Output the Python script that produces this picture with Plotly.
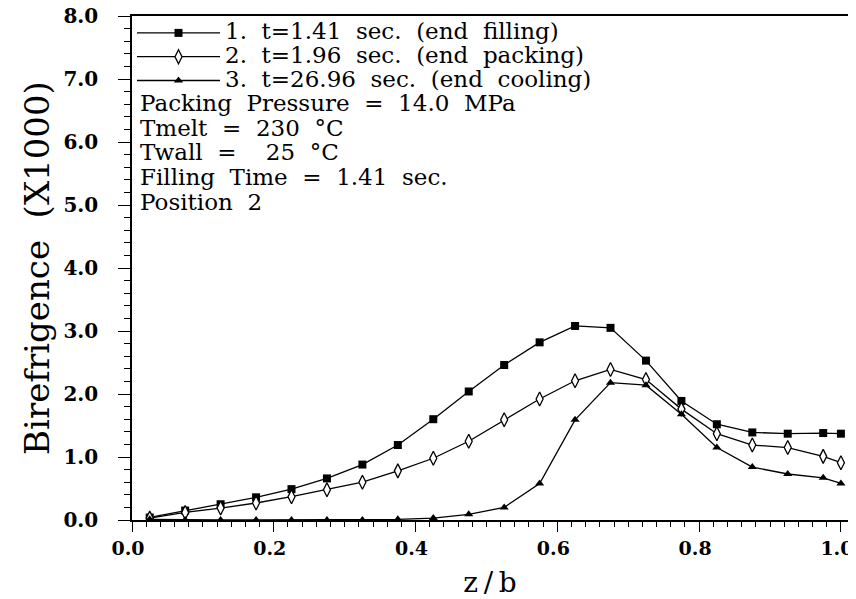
import plotly.graph_objects as go

z_b = [0.025, 0.075, 0.125, 0.175, 0.225, 0.275, 0.325, 0.375, 0.425, 0.475,
       0.525, 0.575, 0.625, 0.675, 0.725, 0.775, 0.825, 0.875, 0.925, 0.975, 1.0]
biref_filling = [0.04, 0.15, 0.25, 0.36, 0.49, 0.66, 0.88, 1.19, 1.60, 2.04,
                 2.46, 2.82, 3.08, 3.05, 2.53, 1.89, 1.52, 1.39, 1.37, 1.38, 1.37]
biref_packing = [0.03, 0.12, 0.19, 0.27, 0.37, 0.48, 0.60, 0.78, 0.98, 1.25,
                 1.59, 1.92, 2.21, 2.39, 2.23, 1.76, 1.37, 1.19, 1.15, 1.01, 0.91]
biref_cooling = [0.01, 0.00, 0.00, 0.00, 0.00, 0.00, 0.00, 0.01, 0.03, 0.09,
                 0.20, 0.58, 1.59, 2.18, 2.14, 1.68, 1.15, 0.84, 0.73, 0.67, 0.58]

S = "\u00a0\u00a0"
names = [f"1.{S}t=1.41{S}sec.{S}(end{S}filling)",
         f"2.{S}t=1.96{S}sec.{S}(end{S}packing)",
         f"3.{S}t=26.96{S}sec.{S}(end{S}cooling)"]
info_lines = [f"Packing{S}Pressure{S}={S}14.0{S}MPa",
              f"Tmelt{S}={S}230{S}°C",
              f"Twall{S}={S}{S}25{S}°C",
              f"Filling{S}Time{S}={S}1.41{S}sec.",
              f"Position{S}2"]
x_ticks = [0.0, 0.2, 0.4, 0.6, 0.8, 1.0]
y_ticks = [0, 1, 2, 3, 4, 5, 6, 7, 8]

FONT = "DejaVu Serif"


def big(s, px=23):
    return f'<span style="font-size:{px}px">{s}</span>'


fig = go.Figure()
fig.add_trace(go.Scatter(x=z_b, y=biref_filling, name=big(names[0]),
                         mode="lines+markers", line=dict(color="black", width=1.3),
                         marker=dict(symbol="square", size=8, color="black")))
fig.add_trace(go.Scatter(x=z_b, y=biref_packing, name=big(names[1]),
                         mode="lines+markers", line=dict(color="black", width=1.3),
                         marker=dict(symbol="diamond-tall", size=10, color="white",
                                     line=dict(color="black", width=1.3))))
fig.add_trace(go.Scatter(x=z_b, y=biref_cooling, name=big(names[2]),
                         mode="lines+markers", line=dict(color="black", width=1.3),
                         marker=dict(symbol="triangle-up", size=8, color="black")))

fig.add_annotation(text="<br>".join(big(s) for s in info_lines), xref="paper", yref="paper",
                   x=0.008, y=0.858, xanchor="left", yanchor="top", align="left",
                   showarrow=False, font=dict(family=FONT, size=19, color="black"))

axis_common = dict(showline=True, linecolor="black", linewidth=1.5, mirror=True,
                   ticks="outside", tickcolor="black", tickwidth=1.3, showgrid=False,
                   zeroline=False, tickformat=".1f", ticklabeloverflow="allow")
fig.update_xaxes(range=[0, 1.01], tickvals=x_ticks, ticklen=10, ticklabelshift=-4,
                 tickfont=dict(family=FONT, size=19, color="black", weight="bold"),
                 minor=dict(dtick=0.02, tick0=0, ticks="outside", ticklen=5,
                            tickcolor="black", tickwidth=1),
                 title=dict(text="z\u2009/\u2009b", font=dict(family=FONT, size=28, color="black"),
                            standoff=26),
                 **axis_common)
fig.update_yaxes(range=[0, 8], tickvals=y_ticks, ticklen=12, ticklabelstandoff=16,
                 tickfont=dict(family=FONT, size=20, color="black", weight="bold"),
                 minor=dict(dtick=0.2, tick0=0, ticks="outside", ticklen=6,
                            tickcolor="black", tickwidth=1),
                 title=dict(text="Birefrigence\u00a0\u00a0(X1000)",
                            font=dict(family=FONT, size=34, color="black"), standoff=4),
                 **axis_common)

# the page adds an 8px body margin, so the figure is 8px smaller in each direction
fig.update_layout(width=848, height=591,
                  margin=dict(l=124, r=8, t=8, b=79, autoexpand=False),
                  plot_bgcolor="white", paper_bgcolor="white",
                  legend=dict(x=0.0, y=1.0, xanchor="left", yanchor="top",
                              bgcolor="rgba(0,0,0,0)", tracegroupgap=0,
                              font=dict(family=FONT, size=16, color="black"),
                              itemwidth=83),
                  showlegend=True)
fig.write_html("out.html")
